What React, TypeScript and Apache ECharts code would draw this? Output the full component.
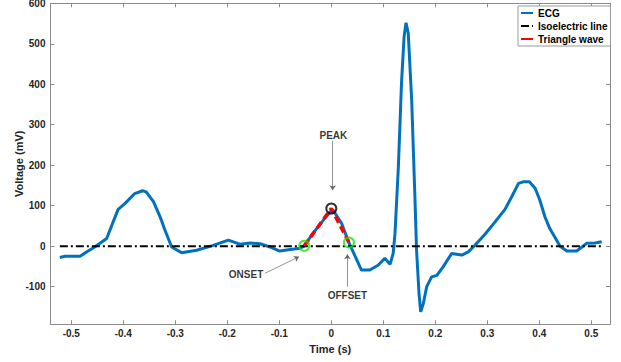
import React, { useEffect, useRef } from "react";
import * as echarts from "echarts";

// ECG trace (time in s, voltage in mV)
const ecgTime = [
  -0.522, -0.512, -0.495, -0.483, -0.47, -0.455, -0.432, -0.41, -0.397, -0.378,
  -0.363, -0.356, -0.342, -0.329, -0.32, -0.307, -0.288, -0.259, -0.227, -0.198,
  -0.176, -0.156, -0.137, -0.118, -0.099, -0.079, -0.063, -0.052, -0.038, -0.018,
  0.0, 0.003, 0.02, 0.034, 0.042, 0.058, 0.074, 0.09, 0.103, 0.113,
  0.119, 0.1225, 0.129, 0.135, 0.14, 0.1437, 0.148, 0.1546, 0.161, 0.164,
  0.1687, 0.172, 0.177, 0.1835, 0.193, 0.203, 0.215, 0.2315, 0.251, 0.2635,
  0.276, 0.286, 0.296, 0.315, 0.334, 0.347, 0.36, 0.369, 0.381, 0.392,
  0.401, 0.411, 0.42, 0.44, 0.453, 0.472, 0.491, 0.507, 0.52,
];
const ecgVoltage = [
  -28, -25, -25, -25, -14, -2, 19, 91, 105, 130,
  137, 134, 110, 72, 40, -2, -16, -10, 2, 15,
  5, 8, 6, -2, -12, -8, -6, 0, 27, 60,
  88, 90, 56, 8, -14, -59, -59, -47, -30, -45,
  -18, 31, 196, 402, 517, 552, 526, 361, 114, -10,
  -117, -162, -142, -100, -76, -72, -51, -18, -22, -14,
  2, 16, 30, 60, 91, 122, 155, 159, 159, 143,
  114, 72, 44, 0, -12, -12, 7, 8, 11,
];

// Isoelectric line
const isoTime = [-0.522, 0.52];
const isoVoltage = [0, 0];

// Triangle wave: onset, peak, offset
const triTime = [-0.052, 0.0, 0.034];
const triVoltage = [1, 93, 9];

// Annotations
const annoNames = ["PEAK", "ONSET", "OFFSET"];
const annoTextPos = [
  [0.004, 274],
  [-0.164, -69],
  [0.031, -123],
];
const annoArrowFrom = [
  [0.0027, 260],
  [-0.1275, -67],
  [0.031, -100],
];
const annoArrowTo = [
  [0.0027, 138],
  [-0.062, -26],
  [0.031, -20],
];

const FONT = "'Liberation Sans', Arial, sans-serif";
const AXIS_COLOR = "#8a8a8a";
const TEXT_COLOR = "#262626";

export default function App() {
  const ref = useRef<HTMLDivElement>(null);

  useEffect(() => {
    document.body.style.margin = "0";
    if (!ref.current) return;
    const chart = echarts.init(ref.current, null, { renderer: "svg" });

    const ecgData = ecgTime.map((t, i) => [t, ecgVoltage[i]]);
    const isoData = isoTime.map((t, i) => [t, isoVoltage[i]]);
    const triData = triTime.map((t, i) => [t, triVoltage[i]]);

    const xMin = -0.54;
    const xMax = 0.536;
    const yMin = -193;
    const yMax = 600;

    const baseX = {
      type: "value" as const,
      min: xMin,
      max: xMax,
      splitNumber: 10,
      splitLine: { show: false },
      axisLine: { show: true, onZero: false, lineStyle: { color: AXIS_COLOR, width: 1 } },
      axisTick: { show: true, inside: true, length: 4, lineStyle: { color: AXIS_COLOR } },
    };
    const baseY = {
      type: "value" as const,
      min: yMin,
      max: yMax,
      splitNumber: 8,
      splitLine: { show: false },
      axisLine: { show: true, onZero: false, lineStyle: { color: AXIS_COLOR, width: 1 } },
      axisTick: { show: true, inside: true, length: 4, lineStyle: { color: AXIS_COLOR } },
    };

    chart.setOption({
      animation: false,
      backgroundColor: "#ffffff",
      grid: {
        left: 50.5,
        right: 11,
        top: 3.3,
        bottom: 37.7,
        containLabel: false,
        outerBoundsMode: "none",
      },
      legend: {
        orient: "vertical",
        left: 518,
        top: 6,
        padding: [2, 3, 2, 2],
        itemGap: 3,
        itemWidth: 12,
        itemHeight: 4,
        itemStyle: { opacity: 0 },
        backgroundColor: "#ffffff",
        borderColor: "#9a9a9a",
        borderWidth: 1,
        textStyle: { fontFamily: FONT, fontSize: 10, fontWeight: "bold", color: "#000" },
        data: [
          { name: "ECG" },
          { name: "Isoelectric line" },
          { name: "Triangle wave", lineStyle: { type: "solid" } },
        ],
      },
      xAxis: [
        {
          ...baseX,
          position: "bottom",
          name: "Time (s)",
          nameLocation: "middle",
          nameGap: 19,
          nameMoveOverlap: false,
          nameTextStyle: { fontFamily: FONT, fontSize: 11, fontWeight: "bold", color: TEXT_COLOR },
          axisLabel: {
            show: true,
            margin: 4,
            showMinLabel: false,
            showMaxLabel: false,
            fontFamily: FONT,
            fontSize: 10,
            fontWeight: "bold",
            color: TEXT_COLOR,
          },
        },
        {
          ...baseX,
          position: "top",
          axisLabel: { show: false },
        },
      ],
      yAxis: [
        {
          ...baseY,
          position: "left",
          name: "Voltage (mV)",
          nameLocation: "middle",
          nameGap: 26,
          nameMoveOverlap: false,
          nameTextStyle: { fontFamily: FONT, fontSize: 11, fontWeight: "bold", color: TEXT_COLOR },
          axisLabel: {
            show: true,
            margin: 5,
            showMinLabel: false,
            fontFamily: FONT,
            fontSize: 10,
            fontWeight: "bold",
            color: TEXT_COLOR,
          },
        },
        {
          ...baseY,
          position: "right",
          axisLabel: { show: false },
        },
      ],
      series: [
        {
          name: "ECG",
          type: "line",
          data: ecgData,
          showSymbol: false,
          symbol: "none",
          z: 2,
          itemStyle: { color: "#0072BD" },
          lineStyle: { color: "#0072BD", width: 3 },
        },
        {
          name: "Isoelectric line",
          type: "line",
          data: isoData,
          showSymbol: false,
          symbol: "none",
          z: 3,
          itemStyle: { color: "#000000" },
          lineStyle: { color: "#000000", width: 2, type: [8, 3, 2, 3] },
        },
        {
          name: "Triangle wave",
          type: "line",
          data: triData,
          showSymbol: false,
          symbol: "none",
          z: 4,
          itemStyle: { color: "#ff0000" },
          lineStyle: { color: "#ff0000", width: 3.5, type: [7, 4] },
        },
        {
          name: "markers",
          type: "scatter",
          z: 5,
          symbol: "circle",
          symbolSize: 10,
          data: triData.map((p, i) => ({
            value: p,
            itemStyle: {
              color: "rgba(0,0,0,0)",
              borderColor: i === 1 ? "#000000" : "#14e614",
              borderWidth: 2,
            },
          })),
        },
        {
          name: "annotations",
          type: "scatter",
          z: 6,
          symbolSize: 0,
          silent: true,
          data: annoNames.map((n, i) => ({ name: n, value: annoTextPos[i] })),
          label: {
            show: true,
            position: "inside",
            formatter: "{b}",
            fontFamily: FONT,
            fontSize: 10,
            fontWeight: "bold",
            color: "#000",
          },
          markLine: {
            silent: true,
            symbol: ["none", "arrow"],
            symbolSize: 5,
            label: { show: false },
            lineStyle: { color: "#666666", width: 0.7, type: "solid" },
            data: annoArrowFrom.map((f, i) => [{ coord: f }, { coord: annoArrowTo[i] }]),
          },
        },
      ],
    });

    return () => chart.dispose();
  }, []);

  return <div ref={ref} style={{ width: 621, height: 362 }} />;
}
